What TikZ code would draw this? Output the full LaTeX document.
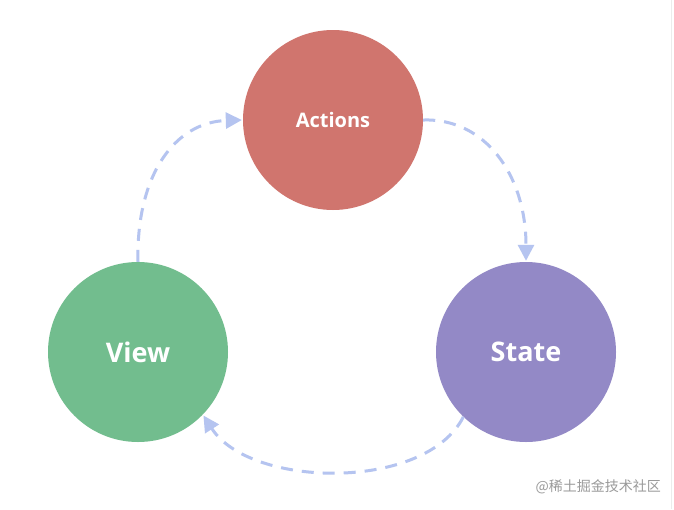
\documentclass[tikz,border=0pt]{standalone}
\usepackage{fontspec}
\setmainfont{Open Sans}
\newfontfamily\cjkfont{Noto Sans CJK SC}
\usetikzlibrary{arrows.meta}
\definecolor{actcol}{HTML}{D0756E}
\definecolor{viewcol}{HTML}{72BD8E}
\definecolor{statecol}{HTML}{9389C6}
\definecolor{arrcol}{HTML}{B5C4F0}
\definecolor{wmcol}{HTML}{9A9A9A}
\tikzset{
  ball/.style={circle, minimum size=180pt, inner sep=0pt, text=white, font=\bfseries},
  flow/.style={draw=arrcol, line width=3pt, dash pattern=on 12pt off 9pt,
    -{Triangle[length=16pt,width=16pt]}, shorten >=1pt},
}
\begin{document}
\begin{tikzpicture}[x=1pt,y=-1pt]
\path[fill=white] (0,0) rectangle (674,509);
\useasboundingbox (0,0) rectangle (674,509);
\draw[gray!15, line width=1pt] (671,0) -- (671,509);
\node[ball, fill=actcol, font=\bfseries\fontsize{20}{24}\selectfont] (actions) at (333,120) {Actions};
\node[ball, fill=viewcol, font=\bfseries\fontsize{27}{32}\selectfont] (view) at (138,352) {View};
\node[ball, fill=statecol, font=\bfseries\fontsize{27}{32}\selectfont] (state) at (526,352) {State};
\draw[flow] (view.north) .. controls (136,175) and (175,122) .. (actions.west);
\draw[flow] (actions.east) .. controls (485,118) and (526,175) .. (state.north);
\draw[flow] (state.226) .. controls (425,492) and (250,488) .. (view.316);
\node[font=\cjkfont\fontsize{14}{16}\selectfont, text=wmcol, anchor=east, inner sep=0pt] (wm) at (661,487) {@稀土掘金技术社区};
\end{tikzpicture}
\end{document}
